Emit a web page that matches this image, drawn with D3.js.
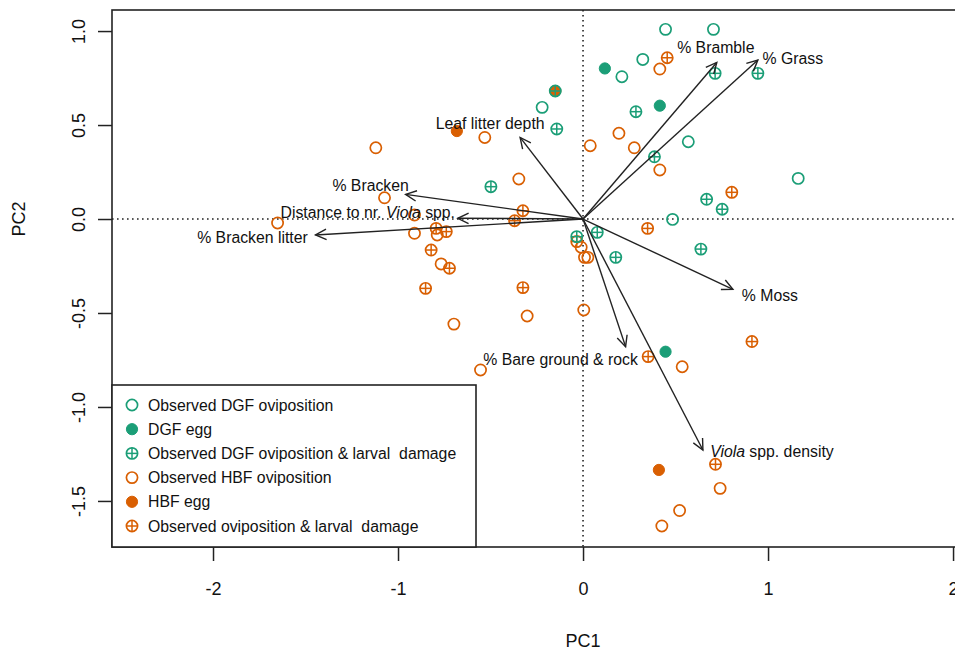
<!DOCTYPE html>
<html>
<head>
<meta charset="utf-8">
<script src="https://cdn.jsdelivr.net/npm/d3@7"></script>
<style>
  html, body { margin: 0; padding: 0; background: #fff; }
  svg { display: block; font-family: "Liberation Sans", Arial, sans-serif; }
</style>
</head>
<body>
<svg id="chart" width="955" height="655"></svg>
<script>
// Site scores on the first two principal components, by observation type
const dgfOviposition = [[0.446,1.009],[0.705,1.009],[0.323,0.849],[0.210,0.757],[-0.221,0.594],[0.569,0.411],[1.163,0.216],[0.484,-0.002]];
const dgfEgg = [[0.118,0.801],[0.415,0.603],[0.446,-0.706]];
const hbfOviposition = [[0.415,0.798],[0.194,0.456],[0.039,0.390],[0.277,0.379],[0.415,0.261],[-0.347,0.213],[-0.531,0.434],[-1.120,0.379],[-1.073,0.113],[-1.651,-0.021],[-0.911,0.021],[-0.911,-0.076],[-0.788,-0.085],[-0.767,-0.239],[-0.698,-0.559],[-0.302,-0.516],[-0.554,-0.803],[0.004,-0.484],[-0.010,-0.150],[0.008,-0.204],[0.026,-0.204],[0.536,-0.786],[0.741,-1.433],[0.522,-1.551],[0.426,-1.633]];
const hbfEgg = [[-0.682,0.468],[0.410,-1.335],[-0.150,0.681]];
const hbfDamage = [[0.455,0.858],[0.804,0.142],[-0.325,0.044],[-0.370,-0.009],[0.349,-0.050],[-0.794,-0.050],[-0.739,-0.067],[-0.821,-0.165],[-0.722,-0.262],[-0.851,-0.369],[-0.325,-0.365],[0.352,-0.732],[0.913,-0.652],[0.716,-1.305],[-0.034,-0.120]];
const dgfDamage = [[0.714,0.775],[0.945,0.775],[0.286,0.571],[-0.150,0.681],[-0.142,0.479],[0.386,0.331],[0.668,0.105],[0.752,0.052],[-0.498,0.172],[-0.034,-0.094],[0.077,-0.071],[0.177,-0.204],[0.637,-0.160]];

// Environmental variable loadings (arrow tips)
const varNames = ["Leaf litter depth","% Bracken","Distance to nr. Viola spp.","% Bracken litter","% Bramble","% Grass","% Moss","% Bare ground & rock","Viola spp. density"];
const varPC1 = [-0.340,-0.959,-0.677,-1.446,0.723,0.945,0.810,0.230,0.648];
const varPC2 = [0.434,0.131,0.004,-0.085,0.833,0.846,-0.374,-0.679,-1.229];

const xTicks = [-2,-1,0,1,2];
const yTicks = [-1.5,-1.0,-0.5,0.0,0.5,1.0];

const legendLabels = ["Observed DGF oviposition","DGF egg","Observed DGF oviposition & larval  damage","Observed HBF oviposition","HBF egg","Observed oviposition & larval  damage"];

const GREEN = "#1b9e77", ORANGE = "#d95f02", INK = "#222";

const svg = d3.select("#chart");
const box = {left: 112, top: 10, right: 966, bottom: 547};

const x = d3.scaleLinear().domain([-2.546, 2.070]).range([box.left, box.right]);
const y = d3.scaleLinear().domain([-1.745, 1.112]).range([box.bottom, box.top]);

// Zero reference lines
const plot = svg.append("g");
plot.append("line")
  .attr("x1", box.left).attr("x2", box.right)
  .attr("y1", y(0)).attr("y2", y(0))
  .attr("stroke", INK).attr("stroke-width", 1.6).attr("stroke-dasharray", "1.6,3.4");
plot.append("line")
  .attr("x1", x(0)).attr("x2", x(0))
  .attr("y1", box.top).attr("y2", box.bottom)
  .attr("stroke", INK).attr("stroke-width", 1.6).attr("stroke-dasharray", "1.6,3.4");

// Symbol drawing
const R = 5.6;
function drawSymbol(g, kind, color) {
  if (kind === "filled") {
    g.append("circle").attr("r", R).attr("fill", color).attr("stroke", color).attr("stroke-width", 1);
    return;
  }
  g.append("circle").attr("r", R).attr("fill", "none").attr("stroke", color).attr("stroke-width", 1.7);
  if (kind === "cross") {
    g.append("line").attr("x1", -R).attr("x2", R).attr("y1", 0).attr("y2", 0)
      .attr("stroke", color).attr("stroke-width", 1.5);
    g.append("line").attr("x1", 0).attr("x2", 0).attr("y1", -R).attr("y2", R)
      .attr("stroke", color).attr("stroke-width", 1.5);
  }
}

const groups = [
  {data: hbfOviposition, kind: "open", color: ORANGE},
  {data: hbfDamage, kind: "cross", color: ORANGE},
  {data: hbfEgg, kind: "filled", color: ORANGE},
  {data: dgfOviposition, kind: "open", color: GREEN},
  {data: dgfEgg, kind: "filled", color: GREEN},
  {data: dgfDamage, kind: "cross", color: GREEN}
];
groups.forEach(grp => {
  plot.append("g").selectAll("g")
    .data(grp.data).join("g")
    .attr("transform", d => `translate(${x(d[0])},${y(d[1])})`)
    .each(function() { drawSymbol(d3.select(this), grp.kind, grp.color); });
});

// Loading arrows
const arrows = varNames.map((n, i) => ({name: n, px: varPC1[i], py: varPC2[i]}));
const head = 12, spread = Math.PI / 7;
const ag = svg.append("g").attr("stroke", INK).attr("stroke-width", 1.4).attr("fill", "none");
arrows.forEach(a => {
  const x0 = x(0), y0 = y(0), x1 = x(a.px), y1 = y(a.py);
  const ang = Math.atan2(y1 - y0, x1 - x0);
  ag.append("line").attr("x1", x0).attr("y1", y0).attr("x2", x1).attr("y2", y1);
  ag.append("path").attr("d",
    `M${x1 - head * Math.cos(ang - spread)},${y1 - head * Math.sin(ang - spread)}` +
    `L${x1},${y1}` +
    `L${x1 - head * Math.cos(ang + spread)},${y1 - head * Math.sin(ang + spread)}`);
});

// Variable labels: pixel offsets from each arrow tip
const labelOffsets = [[-30,-14],[-35,-9],[-90,-6],[-63,3],[-1,-15],[35,-1],[37,6],[-65,13],[69,1]];
const lg = svg.append("g").attr("font-size", 15.8).attr("fill", "#111");
arrows.forEach((a, i) => {
  const t = lg.append("text")
    .attr("x", x(a.px) + labelOffsets[i][0])
    .attr("y", y(a.py) + labelOffsets[i][1])
    .attr("text-anchor", "middle")
    .attr("dominant-baseline", "central");
  const parts = a.name.split("Viola");
  if (parts.length === 1) {
    t.text(a.name);
  } else {
    if (parts[0]) t.append("tspan").text(parts[0]);
    t.append("tspan").attr("font-style", "italic").text("Viola");
    t.append("tspan").text(parts[1]);
  }
});

// Axes
const xAxis = svg.append("g")
  .attr("transform", `translate(0,${box.bottom})`)
  .call(d3.axisBottom(x).tickValues(xTicks).tickSize(14).tickPadding(21).tickFormat(d => String(d)));
xAxis.select(".domain").remove();
xAxis.selectAll("line").attr("stroke", INK).attr("stroke-width", 1.5);
xAxis.selectAll("text").attr("font-size", 18).attr("fill", "#111")
  .attr("font-family", "Liberation Sans, Arial, sans-serif");

const yAxis = svg.append("g")
  .attr("transform", `translate(${box.left},0)`)
  .call(d3.axisLeft(y).tickValues(yTicks).tickSize(14).tickFormat(d => d.toFixed(1)));
yAxis.select(".domain").remove();
yAxis.selectAll("line").attr("stroke", INK).attr("stroke-width", 1.5);
yAxis.selectAll("text")
  .attr("x", null).attr("dy", null)
  .attr("text-anchor", "middle")
  .attr("dominant-baseline", "central")
  .attr("transform", "translate(-33,0) rotate(-90)")
  .attr("font-size", 18).attr("fill", "#111")
  .attr("font-family", "Liberation Sans, Arial, sans-serif");

// Plot frame
svg.append("rect")
  .attr("x", box.left).attr("y", box.top)
  .attr("width", box.right - box.left).attr("height", box.bottom - box.top)
  .attr("fill", "none").attr("stroke", INK).attr("stroke-width", 1.6);

// Axis titles
svg.append("text").attr("x", x(0)).attr("y", 641)
  .attr("text-anchor", "middle").attr("dominant-baseline", "central")
  .attr("font-size", 18).attr("fill", "#111").text("PC1");
svg.append("text")
  .attr("transform", `translate(19,${y(0)}) rotate(-90)`)
  .attr("text-anchor", "middle").attr("dominant-baseline", "central")
  .attr("font-size", 18).attr("fill", "#111").text("PC2");

// Legend
const legendKinds = [["open", GREEN],["filled", GREEN],["cross", GREEN],["open", ORANGE],["filled", ORANGE],["cross", ORANGE]];
const leg = svg.append("g");
leg.append("rect").attr("x", 112).attr("y", 385).attr("width", 364).attr("height", 162)
  .attr("fill", "#fff").attr("stroke", INK).attr("stroke-width", 1.6);
legendLabels.forEach((lab, i) => {
  const cy = 405 + i * 24.2;
  const g = leg.append("g").attr("transform", `translate(132,${cy})`);
  drawSymbol(g, legendKinds[i][0], legendKinds[i][1]);
  leg.append("text").attr("x", 148).attr("y", cy)
    .attr("dominant-baseline", "central").attr("font-size", 15.8).attr("fill", "#111")
    .style("white-space", "pre").text(lab);
});
</script>
</body>
</html>
